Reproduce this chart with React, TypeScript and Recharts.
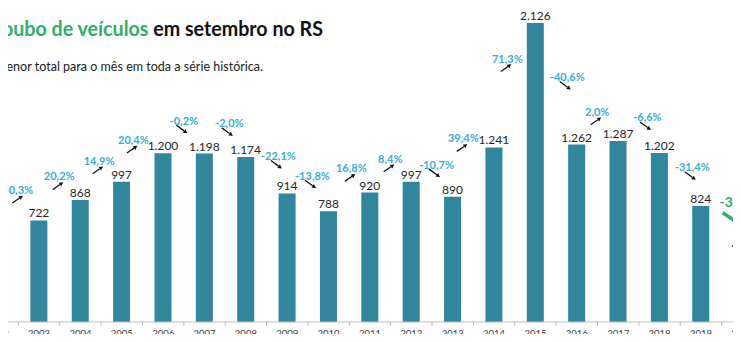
import { BarChart, Bar, XAxis, YAxis, LabelList } from 'recharts';

// Roubo de veículos em setembro no RS
const anos = ['2002', '2003', '2004', '2005', '2006', '2007', '2008', '2009', '2010', '2011', '2012', '2013', '2014', '2015', '2016', '2017', '2018', '2019', '2020'];
const roubos = [724, 722, 868, 997, 1200, 1198, 1174, 914, 788, 920, 997, 890, 1241, 2126, 1262, 1287, 1202, 824, 499];
const variacoes = ['', '-0,3%', '20,2%', '14,9%', '20,4%', '-0,2%', '-2,0%', '-22,1%', '-13,8%', '16,8%', '8,4%', '-10,7%', '39,4%', '71,3%', '-40,6%', '2,0%', '-6,6%', '-31,4%', '-39,4%'];
// direction of the little arrow drawn under each note (as in the original)
const setas = ['', 'sobe', 'sobe', 'sobe', 'sobe', 'desce', 'desce', 'desce', 'desce', 'sobe', 'sobe', 'desce', 'sobe', 'sobe', 'desce', 'sobe', 'desce', 'desce', 'desce'];

// hand placement of the % notes, relative to the top centre of the bar
const notaOffsets: [number, number][] = [
  [0, 0], [-20, -31], [-21, -24], [-22.5, -21.6], [-29.6, -13.7], [-20.5, -33.3], [-16.4, -34],
  [-8.7, -38], [-16, -36], [-18.5, -24.8], [-20.9, -23.6], [-16, -32.7], [-30.6, -9.6],
  [-28, 35], [-9.4, -68], [-20.8, -29.8], [-12, -36], [-8.5, -39.3], [-0.5, -50],
];

const CHART_W = 786;
const CHART_H = 342;
const FONT = 'Lato, "Open Sans", sans-serif';
const BAR = '#31859c';
const CIANO = '#3aaed6';
const VERDE = '#2eb066';

const data = anos.map((ano, i) => ({ ano, roubos: roubos[i], i }));

const fmt = (v: number) => String(v).replace(/\B(?=(\d{3})+(?!\d))/g, '.');

function Seta({ x1, y1, x2, y2, cor, espessura, ponta }: any) {
  const a = Math.atan2(y2 - y1, x2 - x1);
  const bx = x2 - ponta * Math.cos(a);
  const by = y2 - ponta * Math.sin(a);
  const px = Math.sin(a) * ponta * 0.55;
  const py = -Math.cos(a) * ponta * 0.55;
  return (
    <g>
      <line x1={x1} y1={y1} x2={bx} y2={by} stroke={cor} strokeWidth={espessura} />
      <polygon points={`${x2},${y2} ${bx + px},${by + py} ${bx - px},${by - py}`} fill={cor} />
    </g>
  );
}

const renderVariacao = (props: any) => {
  const idx = Number(props.value);
  const txt = variacoes[idx];
  if (!txt) return null;
  const [dx, dy] = notaOffsets[idx];
  const cx = Number(props.x) + Number(props.width) / 2 + dx;
  const cy = Number(props.y) + dy;
  const destaque = idx === anos.length - 1;
  if (destaque) {
    return (
      <g>
        <text x={cx} y={cy} textAnchor="middle" dominantBaseline="central" fill={VERDE} fontSize={14} fontWeight={700} fontFamily={FONT}>
          {txt}
        </text>
        <Seta x1={cx - 19} y1={cy + 11} x2={cx + 4} y2={cy + 26} cor={VERDE} espessura={3.5} ponta={9} />
      </g>
    );
  }
  return (
    <g>
      <text x={cx} y={cy} textAnchor="middle" dominantBaseline="central" fill={CIANO} fontSize={11} fontWeight={700} fontFamily={FONT}>
        {txt}
      </text>
      {setas[idx] === 'desce' ? (
        <Seta x1={cx - 7.5} y1={cy + 5} x2={cx + 3.5} y2={cy + 13} cor="#111" espessura={1.3} ponta={4} />
      ) : (
        <Seta x1={cx - 6.5} y1={cy + 13.5} x2={cx + 4} y2={cy + 6.3} cor="#111" espessura={1.3} ponta={4} />
      )}
    </g>
  );
};

const passo = CHART_W / anos.length;

const TickAno = (props: any) => {
  const { x, y, payload } = props;
  return (
    <g>
      <line x1={x - passo / 2} y1={y} x2={x - passo / 2} y2={y + 4} stroke="#bfbfbf" />
      <text x={x} y={y + 14.5} textAnchor="middle" fill="#404040" fontSize={9.5} fontFamily={FONT}>
        {payload.value}
      </text>
    </g>
  );
};

export default function App() {
  return (
    <div style={{ position: 'relative', width: 741, height: 342, overflow: 'hidden', background: '#fff', margin: -8 }}>
      <div style={{ position: 'absolute', left: -22.6, top: 0 }}>
        <BarChart width={CHART_W} height={CHART_H} data={data} margin={{ top: 23, right: 0, bottom: 0, left: 0 }}>
          <XAxis
            dataKey="ano"
            interval={0}
            height={20}
            tickSize={0}
            tickMargin={0}
            tickLine={false}
            axisLine={{ stroke: '#bfbfbf' }}
            tick={<TickAno />}
          />
          <YAxis hide domain={[0, 2126]} />
          <Bar dataKey="roubos" fill={BAR} barSize={17} isAnimationActive={false}>
            <LabelList
              dataKey="roubos"
              position="top"
              offset={3}
              formatter={(v: any) => fmt(Number(v))}
              fill="#262626"
              fontSize={12}
              fontFamily={FONT}
            />
            <LabelList dataKey="i" content={renderVariacao} />
          </Bar>
        </BarChart>
      </div>
      <svg width={741} height={90} style={{ position: 'absolute', left: 0, top: 0, pointerEvents: 'none' }}>
        <text x={-10} y={36} fontSize={20} fontWeight={700} fontFamily={FONT} textLength={333} lengthAdjust="spacingAndGlyphs">
          <tspan fill={VERDE}>Roubo de veículos</tspan>
          <tspan fill="#111"> em setembro no RS</tspan>
        </text>
        <text x={-5} y={70.5} fontSize={12.5} fill="#222" fontFamily={FONT} textLength={268} lengthAdjust="spacingAndGlyphs">
          Menor total para o mês em toda a série histórica.
        </text>
      </svg>
    </div>
  );
}
